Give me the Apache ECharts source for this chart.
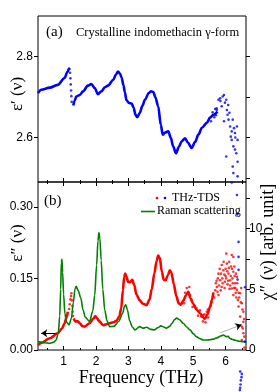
<!DOCTYPE html>
<html><head><meta charset="utf-8">
<script src="https://cdn.jsdelivr.net/npm/echarts@6/dist/echarts.min.js"></script>
<style>html,body{margin:0;padding:0;background:#fff}#c{width:280px;height:392px}</style>
</head><body><div id="c"></div>
<script>
// ---------- data (frequency in THz) ----------
const xMajor = [1, 2, 3, 4, 5, 6];
const xMinor = [0.5, 1.5, 2.5, 3.5, 4.5, 5.5, 6.5];
const epsRealTicksLeft = [2.6, 2.8];
const epsRealTicksRight = [2.5, 2.6, 2.7, 2.8];
const epsImagTicks = [0, 0.15, 0.30];
const chiTicks = [0, 2.5, 5, 7.5, 10, 12.5];
const chiLabels = [0, 5, 10];

// (a) epsilon' - continuous blue curve (null = gap in the measured trace)
const epsRealCurve = [
 [0.21,2.710],[0.31,2.718],[0.57,2.723],[0.82,2.730],[1.03,2.747],[1.12,2.762],[1.17,2.770],[1.19,2.767],
 [1.25,null],
 [1.30,2.679],[1.34,2.690],[1.39,2.701],[1.50,2.705],[1.60,2.714],[1.75,2.728],[1.86,2.732],[1.96,2.722],
 [2.06,2.707],[2.17,2.714],[2.27,2.724],[2.37,2.728],[2.53,2.742],[2.62,2.756],[2.68,2.763],[2.74,2.758],[2.79,2.748],
 [2.85,2.728],[2.89,2.712],[2.94,2.692],[3.02,2.685],[3.10,2.684],[3.16,2.674],[3.22,2.656],[3.27,2.650],[3.35,2.660],
 [3.43,2.678],[3.51,2.693],[3.63,2.710],[3.70,2.714],[3.77,2.712],[3.83,2.700],[3.92,2.677],[4.00,2.631],[4.06,2.607],
 [4.13,2.612],[4.23,2.615],[4.31,2.599],[4.38,2.578],[4.47,2.561],[4.56,2.577],[4.64,2.590],
 [4.75,2.598],[4.84,2.587],[4.95,2.574],[5.06,2.589],[5.16,2.607],[5.27,2.624],[5.42,2.636],
 [5.52,2.649],[5.62,2.656],[5.75,2.664]
];
// (a) epsilon' - sparse / noisy points
const epsRealDots = [
 [1.20,2.760],[1.21,2.746],[1.22,2.731],[1.23,2.716],[1.24,2.702],[1.25,2.688],
 [5.55,2.640],[5.60,2.662],[5.65,2.650],[5.68,2.670],[5.70,2.655],[5.72,2.672],
 [5.73,2.668],[5.78,2.693],[5.83,2.697],[5.88,2.677],[5.91,2.701],[5.95,2.705],[5.98,2.686],
 [6.02,2.693],[6.04,2.668],[6.06,2.656],[6.09,2.644],[6.12,2.661],[6.14,2.627],[6.16,2.602],
 [6.19,2.594],[6.19,2.615],[6.22,2.644],[6.24,2.578],[6.26,2.623],[6.29,2.611],[6.29,2.570],
 [6.33,2.561],[6.35,2.627],[6.37,2.594],[6.22,2.528],[6.24,2.512],[6.19,2.489],[6.37,2.504],
 [6.02,2.553],[5.95,2.640],[5.84,2.690],[6.08,2.680],[6.30,2.600],[6.37,2.540],
 [6.35,2.458],[6.36,2.410],[6.40,2.342],[6.40,2.305],[6.40,2.273],[6.37,2.249],
 [6.60,2.230],[6.60,2.096],
 [6.45,2.022],[6.50,2.016],[6.49,2.008],[6.47,2.000],[6.46,1.990],[6.45,1.982],[6.44,1.976]
];
// (b) epsilon'' - continuous red curve
const epsImagCurve = [
 [0.21,0.0105],[0.31,0.015],[0.56,0.024],[0.82,0.035],[0.95,0.045],[1.03,0.056],[1.09,0.068],[1.13,0.080],
 [1.20,null],
 [1.31,0.066],[1.36,0.060],[1.44,0.060],[1.50,0.056],[1.58,0.050],[1.65,0.049],[1.80,0.056],[1.92,0.066],
 [1.98,0.071],[2.04,0.066],[2.10,0.060],[2.22,0.052],[2.32,0.054],[2.42,0.056],[2.53,0.058],[2.63,0.061],
 [2.72,0.070],[2.78,0.088],[2.83,0.125],[2.87,0.153],[2.90,0.160],[2.94,0.154],[2.99,0.143],[3.05,0.142],
 [3.12,0.147],[3.18,0.136],[3.25,0.116],[3.35,0.104],[3.45,0.097],[3.56,0.094],[3.65,0.105],[3.72,0.127],
 [3.80,0.160],[3.87,0.186],[3.92,0.198],[3.97,0.193],[4.03,0.165],[4.09,0.147],[4.15,0.146],[4.22,0.157],
 [4.28,0.167],[4.33,0.162],[4.40,0.138],[4.48,0.113],[4.55,0.098],[4.62,0.095],[4.70,0.104],[4.78,0.115],
 [4.85,0.122],[4.92,0.108],[5.00,0.097],[5.10,0.085],[5.21,0.077],[5.30,0.069],[5.36,0.065],[5.44,0.075],
 [5.52,0.090],[5.58,0.105],[5.62,0.119]
];
// (b) epsilon'' - sparse / noisy points
const epsImagDots = [
 [1.17,0.086],[1.19,0.096],[1.21,0.106],[1.23,0.113],[1.24,0.119],[1.26,0.104],[1.27,0.092],[1.28,0.080],[1.29,0.071],
 [4.75,0.120],[4.80,0.130],[4.90,0.115],[4.95,0.105],[5.05,0.092],[5.10,0.088],[5.21,0.083],
 [5.25,0.070],[5.31,0.073],[5.35,0.075],[5.42,0.080],[5.45,0.085],[5.52,0.091],[5.57,0.101],
 [5.30,0.060],[5.38,0.058],[5.46,0.068],[5.15,0.072],[4.98,0.090],[4.88,0.132],[4.72,0.098],
 [6.02,0.202],[6.19,0.199],[6.24,0.195],[5.88,0.178],[6.04,0.181],[5.93,0.167],[5.78,0.160],
 [6.09,0.160],[6.24,0.164],[6.35,0.153],[5.83,0.146],[5.98,0.143],[6.14,0.146],[6.29,0.140],
 [5.73,0.132],[5.88,0.132],[6.19,0.129],[6.35,0.126],[5.62,0.119],[5.78,0.115],[6.24,0.115],
 [6.45,0.119],[6.50,0.098],[6.40,0.091],[6.55,0.080],[6.45,0.070],[6.55,0.059],[6.50,0.049],
 [6.55,0.035],[6.50,0.021],[6.58,0.005],
 [5.68,0.125],[5.70,0.140],[5.76,0.150],[5.80,0.135],[5.86,0.160],[5.90,0.150],[5.96,0.158],
 [6.00,0.170],[6.02,0.150],[6.06,0.138],[6.10,0.172],[6.12,0.128],[6.16,0.155],[6.20,0.170],
 [6.22,0.140],[6.26,0.130],[6.28,0.155],[6.31,0.120],[6.33,0.110],[6.38,0.105],
 [5.65,0.110],[5.72,0.145],[5.75,0.122],[5.82,0.170],[5.85,0.125],[5.91,0.140],[5.94,0.185],
 [5.97,0.130],[6.00,0.155],[6.05,0.165],[6.08,0.145],[6.11,0.185],[6.14,0.135],[6.17,0.175],
 [6.21,0.150],[6.27,0.175],[6.30,0.130],[6.32,0.160],[6.36,0.140],[6.42,0.110],[6.47,0.100],
 [6.52,0.085],[6.57,0.065],[6.53,0.045],[6.58,0.028],[6.48,0.130],[6.40,0.120]
];
// (b) Raman chi'' - green curve (right axis)
const ramanCurve = [
 [0.21,0.69],[0.40,0.60],[0.56,0.55],[0.70,0.65],[0.77,0.83],[0.84,1.5],[0.88,2.8],[0.91,5.0],[0.93,7.2],
 [0.95,7.5],[0.97,6.4],[1.00,4.6],[1.04,3.0],[1.09,2.3],[1.17,2.07],[1.24,2.6],[1.30,3.9],[1.35,5.0],
 [1.39,5.25],[1.45,4.9],[1.53,4.3],[1.60,3.3],[1.67,2.7],[1.80,2.35],[1.90,3.2],[1.96,4.5],[2.02,7.0],
 [2.06,9.0],[2.09,9.68],[2.12,9.2],[2.16,7.4],[2.21,5.0],[2.27,3.3],[2.34,2.4],[2.42,1.93],[2.55,1.95],
 [2.70,2.35],[2.82,3.0],[2.88,3.6],[2.92,3.73],[2.97,3.3],[3.04,2.4],[3.12,1.9],[3.20,1.66],[3.35,1.93],
 [3.45,1.80],[3.56,1.88],[3.70,1.70],[3.80,1.66],[3.92,1.85],[4.00,1.99],[4.09,1.90],[4.17,1.80],[4.27,1.95],
 [4.35,2.2],[4.42,2.5],[4.49,2.63],[4.58,2.5],[4.69,2.2],[4.80,1.90],[4.90,1.66],[5.00,1.35],[5.10,1.10],
 [5.20,0.95],[5.31,0.83],[5.42,0.82],[5.52,0.85],[5.62,0.90],[5.73,1.00],[5.85,1.15],[5.93,1.24],[6.03,1.10],
 [6.08,1.12],[6.13,0.97],[6.20,0.88],[6.30,0.80],[6.42,0.72],[6.54,0.69],[6.63,0.65]
];

const X_MIN = 0.21, X_MAX = 6.63;
const SERIF = '"Liberation Serif","Times New Roman",serif';
const SANS = '"Liberation Sans",Arial,sans-serif';

function xAx(grid, pos, vals, len, labels) {
  return {
    type: 'value', gridIndex: grid, position: pos, min: X_MIN, max: X_MAX,
    axisLine: { show: false }, splitLine: { show: false },
    axisTick: { show: true, inside: true, length: len, customValues: vals, lineStyle: { color: '#000', width: 1 } },
    axisLabel: labels ? { show: true, customValues: labels, margin: 6, color: '#000', fontFamily: SANS, fontSize: 12, formatter: v => String(Math.round(v)) } : { show: false }
  };
}
function yAx(grid, pos, min, max, ticks, labels, fmt, margin) {
  return {
    type: 'value', gridIndex: grid, position: pos, min: min, max: max,
    axisLine: { show: false }, splitLine: { show: false },
    axisTick: { show: true, inside: false, length: 4, customValues: ticks, lineStyle: { color: '#000', width: 1 } },
    axisLabel: labels ? { show: true, customValues: labels, margin: margin, color: '#000', fontFamily: SANS, fontSize: 12, formatter: fmt } : { show: false }
  };
}

const chart = echarts.init(document.getElementById('c'), null, { renderer: 'canvas' });
chart.setOption({
  animation: false,
  backgroundColor: '#fff',
  grid: [
    { left: 38, right: 34, top: 16, height: 166, show: true, borderColor: '#000', borderWidth: 1, backgroundColor: 'transparent' },
    { left: 38, right: 34, top: 182, height: 168, show: true, borderColor: '#000', borderWidth: 1, backgroundColor: 'transparent' }
  ],
  xAxis: [
    xAx(0, 'bottom', xMajor, 4, null),
    xAx(0, 'bottom', xMinor, 2, null),
    xAx(1, 'bottom', xMajor, 4, xMajor),
    xAx(1, 'bottom', xMinor, 2, null),
    xAx(1, 'top', xMajor, 4, null),
    xAx(1, 'top', xMinor, 2, null)
  ],
  yAxis: [
    yAx(0, 'left', 2.49, 2.9, epsRealTicksLeft, epsRealTicksLeft, v => v.toFixed(1), 5),
    yAx(0, 'right', 2.49, 2.9, epsRealTicksRight, null),
    yAx(1, 'left', 0, 0.352, epsImagTicks, epsImagTicks, v => v.toFixed(2), 5),
    yAx(1, 'right', 0, 13.85, chiTicks, chiLabels, v => String(Math.round(v)), 3)
  ],
  series: [
    { type: 'line', xAxisIndex: 2, yAxisIndex: 2, data: epsImagCurve, showSymbol: false, connectNulls: false,
      smooth: 0.3, smoothMonotone: 'x',
      lineStyle: { color: '#ff0000', width: 2.6 }, z: 3,
      markLine: { silent: true, animation: false, symbol: ['none', 'arrow'], symbolSize: 6, label: { show: false },
        lineStyle: { color: '#000', width: 1, type: 'solid' },
        data: [[{ coord: [0.75, 0.035] }, { coord: [0.31, 0.035] }]] } },
    { type: 'scatter', xAxisIndex: 2, yAxisIndex: 2, data: epsImagDots, symbolSize: 2.6,
      itemStyle: { color: '#ff0000' }, clip: false, z: 3 },
    { type: 'line', xAxisIndex: 2, yAxisIndex: 3, data: ramanCurve, showSymbol: false,
      smooth: 0.3, smoothMonotone: 'x',
      lineStyle: { color: '#008000', width: 1.6 }, z: 4,
      markLine: { silent: true, animation: false, symbol: ['none', 'none'], label: { show: false },
        lineStyle: { color: '#999', width: 0.8, type: 'solid' },
        data: [
          [{ coord: [5.83, 1.41] }, { coord: [6.42, 2.01] }],
          [{ coord: [6.38, 1.97], symbol: 'none', lineStyle: { color: '#000', width: 1 } }, { coord: [6.49, 2.08], symbol: 'arrow', symbolSize: 6 }]
        ] } },
    { type: 'line', xAxisIndex: 0, yAxisIndex: 0, data: epsRealCurve, showSymbol: false, connectNulls: false,
      smooth: 0.3, smoothMonotone: 'x',
      lineStyle: { color: '#0000ff', width: 2.6 }, z: 3 },
    { type: 'scatter', xAxisIndex: 0, yAxisIndex: 0, data: epsRealDots, symbolSize: 2.6,
      itemStyle: { color: '#0000ff' }, clip: false, z: 5 }
  ],
  graphic: [
    { type: 'text', left: 46, top: 25, style: { text: '(a)', fill: '#000', font: '15px ' + SERIF } },
    { type: 'text', left: 76, top: 26, style: { text: 'Crystalline indomethacin γ-form', fill: '#000', font: '12.5px ' + SERIF } },
    { type: 'text', left: 44, top: 194, style: { text: '(b)', fill: '#000', font: '15px ' + SERIF } },
    { type: 'circle', shape: { cx: 157, cy: 198, r: 1.3 }, style: { fill: '#ff0000' } },
    { type: 'circle', shape: { cx: 165, cy: 198, r: 1.3 }, style: { fill: '#0000ff' } },
    { type: 'text', x: 172, y: 198, style: { text: 'THz-TDS', fill: '#000', font: '12px ' + SERIF, align: 'left', verticalAlign: 'middle' } },
    { type: 'line', shape: { x1: 141, y1: 211.5, x2: 155, y2: 211.5 }, style: { stroke: '#008000', lineWidth: 1.6 } },
    { type: 'text', x: 157, y: 211, style: { text: 'Raman scattering', fill: '#000', font: '12px ' + SERIF, align: 'left', verticalAlign: 'middle' } },
    { type: 'text', x: 18, y: 94, rotation: Math.PI / 2, style: { text: 'ε′ (ν)', fill: '#000', font: '17px ' + SERIF, align: 'center', verticalAlign: 'middle' } },
    { type: 'text', x: 18, y: 243, rotation: Math.PI / 2, style: { text: 'ε″ (ν)', fill: '#000', font: '17px ' + SERIF, align: 'center', verticalAlign: 'middle' } },
    { type: 'text', x: 268, y: 242, rotation: Math.PI / 2, style: { text: 'χ″ (ν) [arb. unit]', fill: '#000', font: '18px ' + SERIF, align: 'center', verticalAlign: 'middle' } },
    { type: 'text', x: 141, y: 378, style: { text: 'Frequency (THz)', fill: '#000', font: '18px ' + SERIF, align: 'center', verticalAlign: 'middle' } }
  ]
});
</script>
</body></html>
